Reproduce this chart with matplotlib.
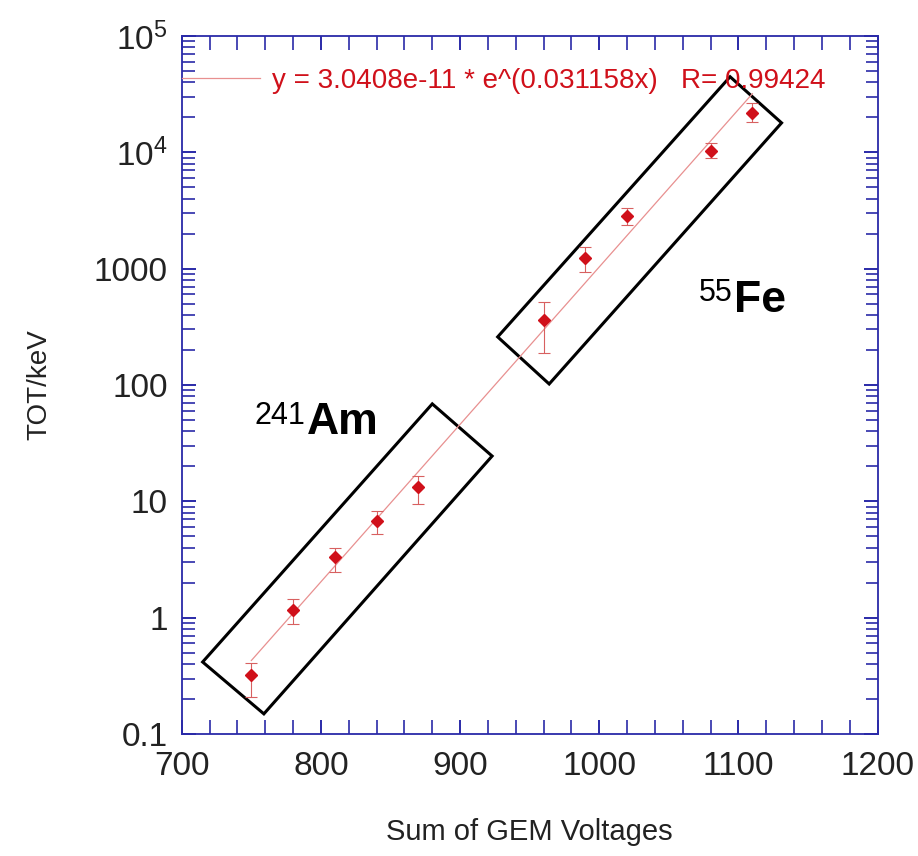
import numpy as np
import matplotlib
matplotlib.use("Agg")
import matplotlib.pyplot as plt
from matplotlib.patches import Polygon
from matplotlib.ticker import FixedLocator, MultipleLocator, LogLocator, NullFormatter

plt.rcParams['font.family'] = ['Liberation Sans', 'DejaVu Sans']
plt.rcParams['mathtext.fontset'] = 'custom'
plt.rcParams['mathtext.rm'] = 'Liberation Sans'
plt.rcParams['mathtext.it'] = 'Liberation Sans'

# Measured points (sum of GEM voltages, TOT/keV) with asymmetric error limits
volts = [750, 780, 810, 840, 870, 960, 990, 1020, 1080, 1110]
tot = [0.32, 1.16, 3.3, 6.8, 13.3, 363, 1240, 2840, 10300, 21900]
tot_low = [0.21, 0.88, 2.47, 5.2, 9.5, 189, 938, 2350, 8900, 18300]
tot_high = [0.41, 1.45, 3.97, 8.3, 16.5, 518, 1540, 3300, 12000, 26700]

# Exponential fit y = a * exp(b x)
fit_a = 3.0408e-11
fit_b = 0.031158
fit_r = 0.99424

# Source boxes, corners in data units (voltage, TOT)
am_box_x = [715, 759, 923, 880]
am_box_y = [0.416, 0.149, 24.5, 68.8]
fe_box_x = [927, 964, 1131, 1094]
fe_box_y = [259, 102, 17900, 44600]

blue = '#2a2aa8'
red = '#d0101a'

fig = plt.figure(figsize=(9.18, 8.56), dpi=100)
ax = fig.add_axes([0.198, 0.1425, 0.758, 0.8155])

xfit = np.linspace(volts[0], volts[-1], 200)
ax.plot(xfit, fit_a * np.exp(fit_b * xfit), color='#e89090', lw=0.9,
        label='y = 3.0408e-11 * e^(0.031158x)   R= %.5f' % fit_r)

tot_arr = np.array(tot)
yerr = [tot_arr - np.array(tot_low), np.array(tot_high) - tot_arr]
ax.errorbar(volts, tot, yerr=yerr, fmt='D', color=red, ms=6.5,
            ecolor='#d86060', elinewidth=0.8, capsize=4, capthick=0.8)

ax.add_patch(Polygon(list(zip(am_box_x, am_box_y)), closed=True, fill=False,
                     edgecolor='black', lw=2.2))
ax.add_patch(Polygon(list(zip(fe_box_x, fe_box_y)), closed=True, fill=False,
                     edgecolor='black', lw=2.2))

ax.set_yscale('log')
ax.set_xlim(700, 1200)
ax.set_ylim(0.1, 1e5)

ax.xaxis.set_major_locator(MultipleLocator(100))
ax.xaxis.set_minor_locator(MultipleLocator(20))
ax.yaxis.set_major_locator(FixedLocator([0.1, 1, 10, 100, 1000, 1e4, 1e5]))
ax.set_yticklabels(['0.1', '1', '10', '100', '1000', r'$10^4$', r'$10^5$'])
ax.yaxis.set_minor_locator(LogLocator(base=10, subs=np.arange(2, 10), numticks=20))
ax.yaxis.set_minor_formatter(NullFormatter())

for s in ax.spines.values():
    s.set_color(blue)
    s.set_linewidth(1.3)
ax.tick_params(which='both', direction='in', top=True, right=True, color=blue,
               labelsize=24, labelcolor='#222222')
ax.tick_params(which='major', length=10, width=1.4)
ax.tick_params(axis='x', which='major', pad=12)
ax.tick_params(axis='y', which='major', pad=10)
ax.tick_params(which='minor', length=9, width=1.2)
ax.tick_params(axis='x', which='minor', length=10)

ax.set_xlabel('Sum of GEM Voltages', fontsize=21, color='#222222', labelpad=26)
ax.set_ylabel('TOT/keV', fontsize=20, color='#222222', labelpad=30)

leg = ax.legend(loc='upper left', bbox_to_anchor=(-0.016, 0.97), frameon=False,
                fontsize=20, labelcolor=red, handlelength=2.8, handletextpad=0.45,
                borderaxespad=0)

# isotope labels: main symbol at its baseline, mass number as a superscript
ax.annotate('Am', (790, 38), fontsize=32, fontweight='bold', va='baseline', ha='left')
ax.annotate('241', (790, 38), xytext=(-1, 24), textcoords='offset points',
            fontsize=22, va='top', ha='right')
ax.annotate('Fe', (1097, 427), fontsize=32, fontweight='bold', va='baseline', ha='left')
ax.annotate('55', (1097, 427), xytext=(-1, 24), textcoords='offset points',
            fontsize=22, va='top', ha='right')

fig.savefig('out.png', dpi=100)
